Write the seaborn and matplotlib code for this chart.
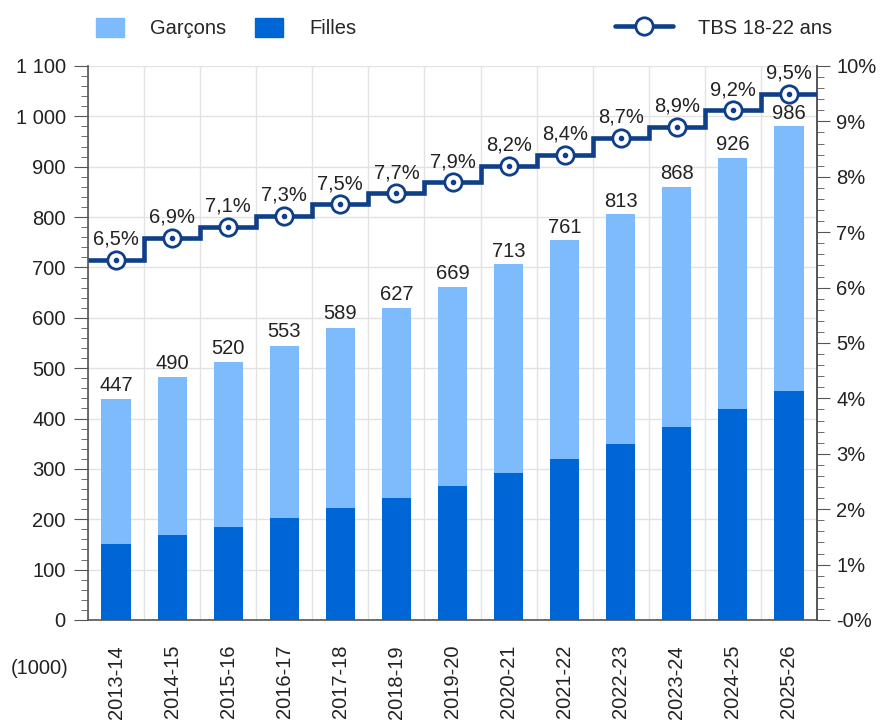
import numpy as np
import matplotlib
matplotlib.use("Agg")
import matplotlib.pyplot as plt
import seaborn as sns
from matplotlib.lines import Line2D
from matplotlib.patches import Patch
from matplotlib.ticker import MultipleLocator

# data (thousands)
saisons = ["2013-14", "2014-15", "2015-16", "2016-17", "2017-18", "2018-19", "2019-20",
           "2020-21", "2021-22", "2022-23", "2023-24", "2024-25", "2025-26"]
filles = [151, 169, 185, 202, 222, 243, 266, 291, 319, 349, 383, 418, 455]
garcons = [288, 313, 328, 343, 358, 376, 396, 415, 435, 457, 477, 500, 525]
total_labels = [447, 490, 520, 553, 589, 627, 669, 713, 761, 813, 868, 926, 986]
tbs = [6.5, 6.9, 7.1, 7.3, 7.5, 7.7, 7.9, 8.2, 8.4, 8.7, 8.9, 9.2, 9.5]

c_garcons = "#7DBBFC"
c_filles = "#0066D6"
c_line = "#0E3F88"
c_text = "#222222"
c_axis = "#555555"
c_grid = "#E2E2E2"
fs = 14.5

sns.set_style("white")
plt.rcParams["font.family"] = ["Liberation Sans", "DejaVu Sans"]
plt.rcParams["font.size"] = fs

fig = plt.figure(figsize=(8.82, 7.22), dpi=100)
ax = fig.add_axes([0.0998, 0.1413, 0.8265, 0.7673])

totals = [f + g for f, g in zip(filles, garcons)]
sns.barplot(x=saisons, y=totals, color=c_garcons, saturation=1, width=0.52, linewidth=0, ax=ax, zorder=2)
sns.barplot(x=saisons, y=filles, color=c_filles, saturation=1, width=0.52, linewidth=0, ax=ax, zorder=3)

n = len(saisons)
for i, t in enumerate(total_labels):
    ax.text(i, t, str(t), ha="center", va="bottom", color=c_text, fontsize=fs, zorder=5)

ax.set_xlim(-0.5, n - 0.5)
ax.set_ylim(0, 1100)
ax.set_yticks(range(0, 1101, 100))
ax.set_yticklabels([f"{v:,}".replace(",", " ") for v in range(0, 1101, 100)], color=c_text)
ax.yaxis.set_minor_locator(MultipleLocator(20))
ax.set_xticks(range(n))
ax.set_xticklabels(saisons, rotation=90, color=c_text)
ax.set_xticks(np.arange(n + 1) - 0.5, minor=True)
ax.tick_params(axis="x", which="major", length=0, pad=18)
ax.tick_params(axis="x", which="minor", length=11, color=c_axis, width=1)
ax.tick_params(axis="y", which="major", length=10, color=c_axis, pad=6)
ax.tick_params(axis="y", which="minor", length=5, color=c_axis)
ax.set_xlabel("")
ax.grid(False)
ax.yaxis.grid(True, which="major", color=c_grid, lw=1, zorder=0)
ax.xaxis.grid(True, which="minor", color=c_grid, lw=1, zorder=0)
ax.set_axisbelow(True)
ax.spines["top"].set_visible(False)
for s in ["left", "bottom", "right"]:
    ax.spines[s].set_color(c_axis)
    ax.spines[s].set_linewidth(1.2)

# right axis: TBS line
ax2 = ax.twinx()
ax2.stairs(tbs, np.arange(n + 1) - 0.5, baseline=None, color=c_line, lw=3.3, zorder=4)
ax2.plot(range(n), tbs, ls="none", marker="o", ms=12.5, mfc="white", mec=c_line, mew=2, zorder=5)
ax2.plot(range(n), tbs, ls="none", marker="o", ms=3, mfc=c_line, mec=c_line, zorder=6)
for i, v in enumerate(tbs):
    ax2.annotate(f"{v:.1f}%".replace(".", ","), (i, v), xytext=(0, 8), textcoords="offset points",
                 ha="center", va="bottom", color=c_text, fontsize=fs)
ax2.set_ylim(0, 10)
ax2.set_yticks(range(0, 11))
ax2.set_yticklabels(["-0%"] + [f"{v}%" for v in range(1, 11)], color=c_text)
ax2.yaxis.set_minor_locator(MultipleLocator(0.2))
ax2.tick_params(axis="y", which="major", length=9, color=c_axis, pad=5)
ax2.tick_params(axis="y", which="minor", length=5, color=c_axis)
ax2.grid(False)
for s in ["top", "left", "bottom"]:
    ax2.spines[s].set_visible(False)
ax2.spines["right"].set_color(c_axis)
ax2.spines["right"].set_linewidth(1.2)

fig.text(40 / 882, 1 - 668 / 722, "(1000)", ha="center", va="center", color=c_text, fontsize=fs)

bar_handles = [Patch(color=c_garcons, label="Garçons"), Patch(color=c_filles, label="Filles")]
fig.legend(handles=bar_handles, loc="center left", bbox_to_anchor=(96 / 882, 1 - 28 / 722),
           ncol=2, frameon=False, borderpad=0, borderaxespad=0, handlelength=1.4,
           handleheight=1.1, handletextpad=1.3, columnspacing=1.4, fontsize=fs)
line_handle = Line2D([], [], color=c_line, lw=3.3, marker="o", ms=12.5, mfc="white", mec=c_line, mew=2)
fig.legend(handles=[line_handle], labels=["TBS 18-22 ans"], loc="center left",
           bbox_to_anchor=(615 / 882, 1 - 28 / 722), frameon=False, borderpad=0,
           borderaxespad=0, handlelength=2.9, handletextpad=1.2, fontsize=fs)

fig.savefig("out.png", dpi=100)
